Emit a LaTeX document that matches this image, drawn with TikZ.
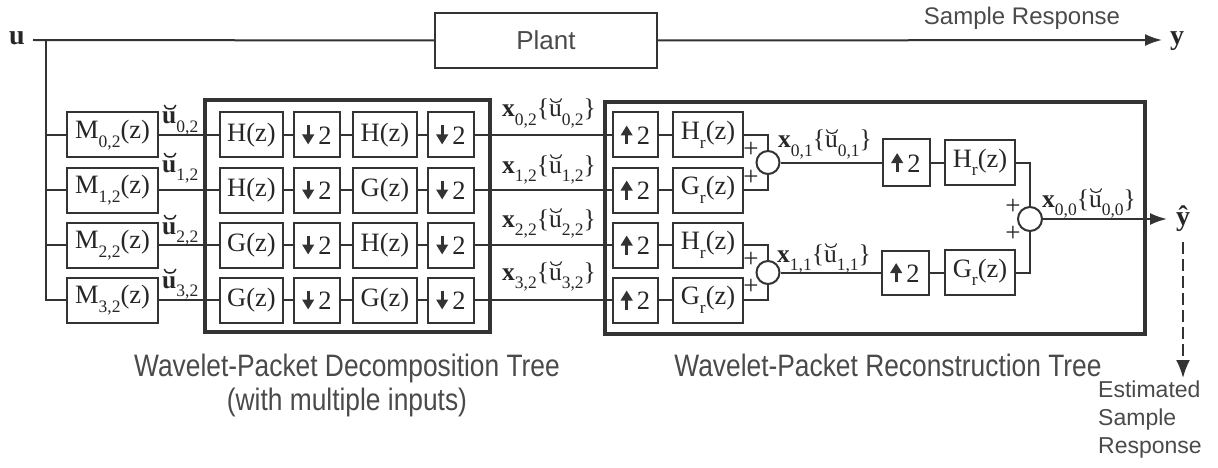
\documentclass[tikz,border=0pt]{standalone}
\usepackage{fontspec}
\setmainfont{Liberation Serif}
\newfontfamily\sansf{Liberation Sans}
\usetikzlibrary{arrows.meta}
\definecolor{ln}{HTML}{333333}
\definecolor{tx}{HTML}{4A4A4A}
\newcommand{\sbs}[1]{\raisebox{-0.32em}{\fontsize{17.5}{17.5}\selectfont #1}}
\newcommand{\dnarr}{\tikz[baseline=0pt]\draw[ln,line width=2.8pt,-{Triangle[length=10pt,width=11.5pt]}] (0pt,19pt)--(0pt,0pt);}
\newcommand{\uparr}{\tikz[baseline=0pt]\draw[ln,line width=2.8pt,-{Triangle[length=10pt,width=11.5pt]}] (0pt,0pt)--(0pt,19pt);}
\newcommand{\ubb}{\makebox[0pt][l]{\hspace{1.3pt}\tikz[baseline=0pt]\draw[black!85,line width=1.5pt] (0pt,19pt) arc[start angle=180,end angle=360,x radius=5.8pt,y radius=4pt];}\textbf{u}}
\newcommand{\ubn}{\makebox[0pt][l]{\hspace{0.8pt}\tikz[baseline=0pt]\draw[black!85,line width=1.1pt] (0pt,18.5pt) arc[start angle=180,end angle=360,x radius=5.6pt,y radius=4pt];}u}
\begin{document}
\begin{tikzpicture}[x=1pt,y=-1pt,
  blk/.style={draw=ln, line width=2pt, minimum height=45pt, inner sep=0pt, font=\fontsize{26.5}{30}\selectfont, text=black!85},
  frame/.style={draw=ln, line width=3.5pt},
  wire/.style={draw=ln, line width=2pt},
  sumj/.style={circle, draw=ln, line width=2pt, minimum size=23pt, inner sep=0pt},
  lab/.style={font=\fontsize{25.5}{28}\selectfont, inner sep=0pt, text=black!85},
  plus/.style={font=\fontsize{27}{27}\selectfont, inner sep=0pt, text=black!85},
  captxt/.style={font=\sansf\fontsize{31}{34}\selectfont, text=tx, inner sep=0pt},
  arr/.style={-{Latex[length=17pt,width=12pt]}}]
\useasboundingbox (0,0) rectangle (1218,468);
% frames
\draw[frame] (205,100) rectangle (490,332);
\draw[frame] (605,102) rectangle (1145,334);
% input and plant
\node[lab, font=\fontsize{28}{30}\selectfont\bfseries] (u) at (17,38) {u};
\coordinate (uin) at (33,40);
\coordinate (tap) at (46,40);
\node[draw=ln, line width=2pt, minimum width=222pt, minimum height=55pt, inner sep=0pt, font=\sansf\fontsize{26}{30}\selectfont, text=tx] (P) at (546,40.5) {Plant};
\node[lab, font=\fontsize{28}{30}\selectfont\bfseries, anchor=base] (y) at (1177,45) {y};
\coordinate (yend) at (1162,40);
\node[captxt, font=\sansf\fontsize{24}{28}\selectfont, anchor=base] (sr) at (1022,25) {Sample Response};
\draw[wire] (uin) -- (P.west);
\draw[wire, arr] (P.east) -- (yend);
% M blocks
\node[blk, minimum width=91pt] (M0) at (112.5,135) {M\sbs{0,2}(z)};
\node[blk, minimum width=91pt] (M1) at (112.5,190) {M\sbs{1,2}(z)};
\node[blk, minimum width=91pt] (M2) at (112.5,245) {M\sbs{2,2}(z)};
\node[blk, minimum width=91pt] (M3) at (112.5,300) {M\sbs{3,2}(z)};
\draw[wire] (tap) |- (M0.west);
\draw[wire] (tap) |- (M1.west);
\draw[wire] (tap) |- (M2.west);
\draw[wire] (tap) |- (M3.west);
% u-breve labels
\node[lab, anchor=base west] (ub0) at (162,124) {\ubb\sbs{0,2}};
\node[lab, anchor=base west] (ub1) at (162,172) {\ubb\sbs{1,2}};
\node[lab, anchor=base west] (ub2) at (162,234) {\ubb\sbs{2,2}};
\node[lab, anchor=base west] (ub3) at (162,288) {\ubb\sbs{3,2}};
% decomposition
\foreach \r/\yy/\fa/\fb in {0/135/H/H, 1/190/H/G, 2/245/G/H, 3/300/G/G}{
  \node[blk, minimum width=63pt] (Fa\r) at (251.5,\yy) {\fa(z)};
  \node[blk, minimum width=46pt] (Da\r) at (317,\yy) {\dnarr\,2};
  \node[blk, minimum width=64pt] (Fb\r) at (385,\yy) {\fb(z)};
  \node[blk, minimum width=46pt] (Db\r) at (451,\yy) {\dnarr\,2};
}
% reconstruction level 1
\foreach \r/\yy/\fr in {0/135/H, 1/190/G, 2/245/H, 3/300/G}{
  \node[blk, minimum width=45pt] (U\r) at (635.5,\yy) {\uparr\,2};
  \node[blk, minimum width=70pt] (R\r) at (708,\yy) {\fr\sbs{r}(z)};
}
\foreach \r in {0,1,2,3}{
  \draw[wire] (M\r.east) -- (Fa\r.west);
  \draw[wire] (Fa\r.east) -- (Da\r.west);
  \draw[wire] (Da\r.east) -- (Fb\r.west);
  \draw[wire] (Fb\r.east) -- (Db\r.west);
  \draw[wire] (Db\r.east) -- (U\r.west);
  \draw[wire] (U\r.east) -- (R\r.west);
}
% x labels
\node[lab, anchor=base west] (x02) at (502,117) {\textbf{x}\sbs{0,2}\{\ubn\sbs{0,2}\}};
\node[lab, anchor=base west] (x12) at (502,173) {\textbf{x}\sbs{1,2}\{\ubn\sbs{1,2}\}};
\node[lab, anchor=base west] (x22) at (502,227) {\textbf{x}\sbs{2,2}\{\ubn\sbs{2,2}\}};
\node[lab, anchor=base west] (x32) at (502,280) {\textbf{x}\sbs{3,2}\{\ubn\sbs{3,2}\}};
% sum junctions
\node[sumj] (S0) at (768,162.5) {};
\node[sumj] (S1) at (768,272.5) {};
\draw[wire] (R0.east) -| (S0.north);
\draw[wire] (R1.east) -| (S0.south);
\draw[wire] (R2.east) -| (S1.north);
\draw[wire] (R3.east) -| (S1.south);
\node[plus] (p0a) at (751,150) {+};
\node[plus] (p0b) at (751,178) {+};
\node[plus] (p1a) at (751,260) {+};
\node[plus] (p1b) at (751,287) {+};
% level 2
\node[blk, minimum width=47pt, minimum height=46pt] (V0) at (906,162.5) {\uparr\,2};
\node[blk, minimum width=70pt] (Q0) at (980,162.5) {H\sbs{r}(z)};
\node[blk, minimum width=47pt, minimum height=44pt] (V1) at (905,272.5) {\uparr\,2};
\node[blk, minimum width=70pt] (Q1) at (980,272.5) {G\sbs{r}(z)};
\draw[wire] (S0.east) -- (V0.west);
\draw[wire] (V0.east) -- (Q0.west);
\draw[wire] (S1.east) -- (V1.west);
\draw[wire] (V1.east) -- (Q1.west);
\node[lab, anchor=base west] (x01) at (778,148) {\textbf{x}\sbs{0,1}\{\ubn\sbs{0,1}\}};
\node[lab, anchor=base west] (x11) at (777,262) {\textbf{x}\sbs{1,1}\{\ubn\sbs{1,1}\}};
% final sum
\node[sumj, minimum size=24pt] (S2) at (1030,219) {};
\draw[wire] (Q0.east) -| (S2.north);
\draw[wire] (Q1.east) -| (S2.south);
\node[plus] (p2a) at (1013,207) {+};
\node[plus] (p2b) at (1013,234) {+};
\node[lab, anchor=base west] (x00) at (1042,207) {\textbf{x}\sbs{0,0}\{\ubn\sbs{0,0}\}};
\node[lab, font=\fontsize{28}{30}\selectfont\bfseries] (yh) at (1183,219) {ŷ};
\coordinate (yo) at (1167,219);
\draw[wire, arr] (S2.east) -- (yo);
\coordinate (d0) at (1183,242);
\coordinate (d1) at (1183,378);
\draw[wire, dash pattern=on 12pt off 5pt, -{Latex[length=18pt,width=14pt]}] (d0) -- (d1);
% captions
\node[captxt, align=center, anchor=north] (dec) at (347,354) {\scalebox{0.85}[1]{Wavelet-Packet Decomposition Tree}\\\scalebox{0.85}[1]{(with multiple inputs)}};
\node[captxt, anchor=north] (rec) at (888,354) {\scalebox{0.85}[1]{Wavelet-Packet Reconstruction Tree}};
\node[captxt, font=\sansf\fontsize{23}{28}\selectfont, align=left, anchor=north west] (est) at (1098,381) {Estimated\\Sample\\Response};
\end{tikzpicture}
\end{document}
